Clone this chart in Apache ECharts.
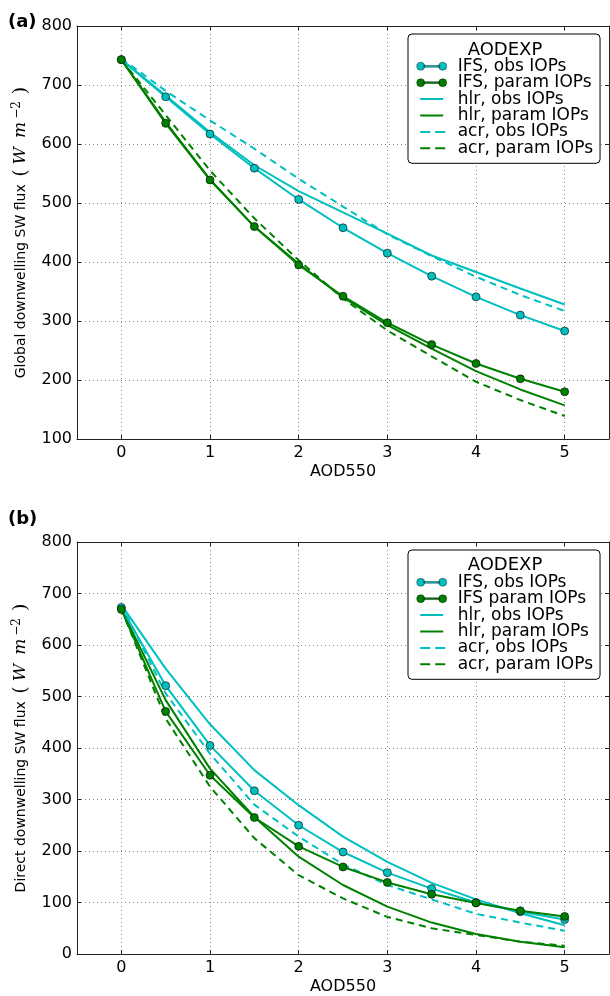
<!DOCTYPE html>
<html>
<head>
<meta charset="utf-8">
<script src="https://cdn.jsdelivr.net/npm/echarts@6/dist/echarts.min.js"></script>
<style>
  html, body { margin: 0; padding: 0; background: #fff; }
  #chart { width: 610px; height: 996px; }
</style>
</head>
<body>
<div id="chart"></div>
<script>
// ---- data ----
const aod = [0, 0.5, 1, 1.5, 2, 2.5, 3, 3.5, 4, 4.5, 5];
const xTicks = [0, 1, 2, 3, 4, 5];

// Panel (a): global downwelling SW flux
const ifsObsA   = [743, 680, 617, 559, 506, 458, 415, 376, 341, 310, 283];
const ifsParamA = [743, 635, 539, 460, 395, 342, 297, 260, 228, 202, 180];
const hlrObsA   = [743, 682, 620, 564, 520, 484, 448, 411, 383, 355, 328];
const hlrParamA = [743, 637, 540, 460, 397, 340, 293, 253, 215, 184, 157];
const acrObsA   = [745, 690, 640, 592, 541, 494, 447, 410, 375, 344, 317];
const acrParamA = [743, 649, 555, 474, 403, 338, 284, 240, 197, 166, 139];

// Panel (b): direct downwelling SW flux
const ifsObsB   = [673, 521, 405, 317, 250, 198, 158, 127, 100, 82, 67];
const ifsParamB = [669, 471, 347, 265, 209, 169, 139, 116, 99, 84, 73];
const hlrObsB   = [678, 554, 446, 357, 289, 228, 179, 138, 106, 79, 56];
const hlrParamB = [670, 493, 360, 266, 189, 134, 92, 61, 39, 24, 13];
const acrObsB   = [678, 506, 389, 290, 228, 174, 134, 106, 78, 61, 45];
const acrParamB = [670, 457, 325, 225, 153, 108, 72, 50, 37, 24, 16];

const namesA = ['IFS, obs IOPs', 'IFS, param IOPs', 'hlr, obs IOPs', 'hlr, param IOPs', 'acr, obs IOPs', 'acr, param IOPs'];
const namesB = ['IFS, obs IOPs', 'IFS param IOPs', 'hlr, obs IOPs', 'hlr, param IOPs', 'acr, obs IOPs', 'acr, param IOPs'];
const legendTitle = 'AODEXP';
const xName = 'AOD550';
const yNameA = 'Global downwelling SW flux ';
const yNameB = 'Direct downwelling SW flux ';

// ---- styles ----
const CYAN = '#00BFBF';
const GREEN = '#008000';
const FONT = 'DejaVu Sans';
const DASH = [7, 5];

function pairs(ys) { return aod.map((x, i) => [x, ys[i]]); }

function mkSeries(name, ys, color, kind, axisIdx) {
  const s = {
    name: name, type: 'line', data: pairs(ys),
    xAxisIndex: axisIdx, yAxisIndex: axisIdx,
    color: color,
    lineStyle: { color: color, width: 2, type: kind === 'dash' ? DASH : 'solid' },
    animation: false, silent: true, z: 3
  };
  if (kind === 'marker') {
    s.symbol = 'circle';
    s.symbolSize = 8;
    s.showSymbol = true;
    s.itemStyle = { color: color, borderColor: '#000', borderWidth: 0.6 };
    s.z = 4;
  } else {
    s.symbol = 'none';
    s.showSymbol = false;
  }
  return s;
}

// legend handle icons in a 30x10 box (corner points keep the box size)
const BOX = 'M0,0 L0,0 Z M30,10 L30,10 Z ';
const ifsIcon = 'path://' + BOX +
  'M0,5 A4,4 0 1,1 8,5 A4,4 0 1,1 0,5 Z M7,4.1 L23,4.1 L23,5.9 L7,5.9 Z M22,5 A4,4 0 1,1 30,5 A4,4 0 1,1 22,5 Z';
const solidIcon = 'path://' + BOX + 'M3.5,4 L26.5,4 L26.5,6 L3.5,6 Z';
const dashIcon = 'path://' + BOX + 'M3.5,4 L13.5,4 L13.5,6 L3.5,6 Z M18.5,4 L28.5,4 L28.5,6 L18.5,6 Z';
const iconKinds = [ifsIcon, ifsIcon, solidIcon, solidIcon, dashIcon, dashIcon];
const iconColors = [CYAN, GREEN, CYAN, GREEN, CYAN, GREEN];

function mkLegend(names, top) {
  return {
    orient: 'vertical', left: 408, top: top,
    padding: [23.8, 7, 6.5, 8.5],
    backgroundColor: '#fff', borderColor: '#000', borderWidth: 1, borderRadius: 4,
    itemWidth: 30, itemHeight: 10, itemGap: -0.6,
    selectedMode: false,
    textStyle: { fontSize: 17, fontFamily: FONT, color: '#000', padding: [0, 0, 0, 6] },
    data: names.map((n, i) => ({
      name: n,
      icon: iconKinds[i],
      itemStyle: i < 2
        ? { color: iconColors[i], borderColor: '#000', borderWidth: 0.4 }
        : { color: iconColors[i], borderWidth: 0 },
      lineStyle: { width: 0 }
    }))
  };
}

const axisLineStyle = { color: '#222', width: 1 };
const gridLineStyle = { color: '#888', width: 1, type: [1, 3] };

function xAxisPair(gridIndex) {
  return [
    {
      type: 'value', gridIndex: gridIndex, position: 'bottom',
      min: -0.5, max: 5.5,
      name: xName, nameLocation: 'middle', nameGap: 25,
      nameTextStyle: { fontSize: 16, fontFamily: FONT, color: '#000' },
      axisLine: { show: true, onZero: false, lineStyle: axisLineStyle },
      axisTick: { show: true, inside: true, length: 4, customValues: xTicks, lineStyle: axisLineStyle },
      axisLabel: { show: true, customValues: xTicks, margin: 6, fontSize: 16, fontFamily: FONT, color: '#000' },
      splitLine: { show: true, lineStyle: gridLineStyle }
    },
    {
      type: 'value', gridIndex: gridIndex, position: 'top',
      min: -0.5, max: 5.5,
      axisLine: { show: true, onZero: false, lineStyle: axisLineStyle },
      axisTick: { show: true, inside: true, length: 4, customValues: xTicks, lineStyle: axisLineStyle },
      axisLabel: { show: false },
      splitLine: { show: false }
    }
  ];
}

function yAxisPair(gridIndex, min, yName) {
  const rich = {
    a: { fontSize: 14, fontFamily: FONT, color: '#000', lineHeight: 20 },
    p: { fontSize: 19, fontFamily: 'DejaVu Serif', color: '#000', lineHeight: 20, padding: [0, 0, 0, 3] },
    q: { fontSize: 19, fontFamily: 'DejaVu Serif', color: '#000', lineHeight: 20, padding: [0, 0, 0, 7] },
    w: { fontSize: 17, fontFamily: 'DejaVu Serif', fontStyle: 'italic', color: '#000', lineHeight: 20, padding: [0, 0, 0, 5] },
    m: { fontSize: 17, fontFamily: 'DejaVu Serif', fontStyle: 'italic', color: '#000', lineHeight: 20, padding: [0, 0, 0, 9] },
    s: { fontSize: 12, fontFamily: 'DejaVu Serif', color: '#000', lineHeight: 6, verticalAlign: 'top', padding: [0, 0, 0, 3] }
  };
  return [
    {
      type: 'value', gridIndex: gridIndex, position: 'left',
      min: min, max: 800, interval: 100,
      name: '{a|' + yName + '}{p|(}{w|W}{m|m}{s|\u22122}{q|)}',
      nameLocation: 'middle', nameGap: 45,
      nameTextStyle: { rich: rich },
      axisLine: { show: true, onZero: false, lineStyle: axisLineStyle },
      axisTick: { show: true, inside: true, length: 4, lineStyle: axisLineStyle },
      axisLabel: { show: true, margin: 5, fontSize: 16, fontFamily: FONT, color: '#000' },
      splitLine: { show: true, lineStyle: gridLineStyle }
    },
    {
      type: 'value', gridIndex: gridIndex, position: 'right',
      min: min, max: 800, interval: 100,
      axisLine: { show: true, onZero: false, lineStyle: axisLineStyle },
      axisTick: { show: true, inside: true, length: 4, lineStyle: axisLineStyle },
      axisLabel: { show: false },
      splitLine: { show: false }
    }
  ];
}

const chart = echarts.init(document.getElementById('chart'), null, { renderer: 'canvas' });

const option = {
  backgroundColor: '#fff',
  animation: false,
  grid: [
    { left: 77, right: 1, top: 26, bottom: 557, containLabel: false },
    { left: 77, right: 1, top: 542, bottom: 42, containLabel: false }
  ],
  xAxis: xAxisPair(0).concat(xAxisPair(1)),
  yAxis: yAxisPair(0, 100, yNameA).concat(yAxisPair(1, 0, yNameB)),
  legend: [mkLegend(namesA, 34), mkLegend(namesB, 550)],
  graphic: [
    { type: 'text', left: 8, top: 13, style: { text: '(a)', font: 'bold 18px "DejaVu Sans"', fill: '#000' } },
    { type: 'text', left: 8, top: 510, style: { text: '(b)', font: 'bold 18px "DejaVu Sans"', fill: '#000' } },
    { type: 'text', x: 505, y: 50, style: { text: legendTitle, font: '18px "DejaVu Sans"', fill: '#000', align: 'center', verticalAlign: 'middle' }, z: 100 },
    { type: 'text', x: 505, y: 565.5, style: { text: legendTitle, font: '18px "DejaVu Sans"', fill: '#000', align: 'center', verticalAlign: 'middle' }, z: 100 }
  ],
  series: [
    mkSeries(namesA[0], ifsObsA, CYAN, 'marker', 0),
    mkSeries(namesA[1], ifsParamA, GREEN, 'marker', 0),
    mkSeries(namesA[2], hlrObsA, CYAN, 'solid', 0),
    mkSeries(namesA[3], hlrParamA, GREEN, 'solid', 0),
    mkSeries(namesA[4], acrObsA, CYAN, 'dash', 0),
    mkSeries(namesA[5], acrParamA, GREEN, 'dash', 0),
    mkSeries(namesB[0], ifsObsB, CYAN, 'marker', 2),
    mkSeries(namesB[1], ifsParamB, GREEN, 'marker', 2),
    mkSeries(namesB[2], hlrObsB, CYAN, 'solid', 2),
    mkSeries(namesB[3], hlrParamB, GREEN, 'solid', 2),
    mkSeries(namesB[4], acrObsB, CYAN, 'dash', 2),
    mkSeries(namesB[5], acrParamB, GREEN, 'dash', 2)
  ]
};
chart.setOption(option);
</script>
</body>
</html>
